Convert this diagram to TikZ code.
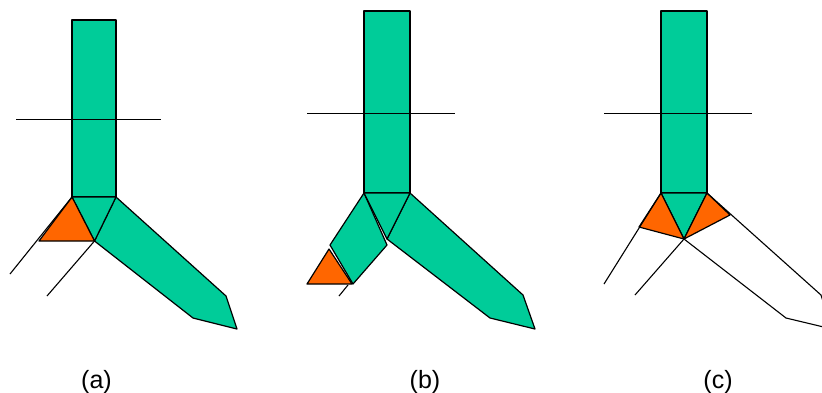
\documentclass[tikz,border=0pt]{standalone}
\usepackage{fontspec}
\setmainfont{Liberation Sans}
\definecolor{limbgreen}{RGB}{0,204,153}
\definecolor{tipred}{RGB}{255,102,0}
\tikzset{
  limb/.style={draw=black,fill=limbgreen,line width=1.2pt,line join=round},
  tip/.style={draw=black,fill=tipred,line width=1.2pt,line join=round},
  wire/.style={draw=black,line width=1.1pt},
  caption/.style={font=\fontsize{25}{28}\selectfont,inner sep=0pt,anchor=base}
}
\begin{document}
\begin{tikzpicture}[x=1pt,y=-1pt]
  \useasboundingbox (0,0) rectangle (822,392);
  \clip (0,0) rectangle (822,392);
  % panel a
  \draw[limb] (72,20) rectangle (116,197);
  \draw[wire] (16,119.5) -- (161,119.5);
  \draw[limb] (116,197) -- (226,296) -- (237,329) -- (193,318) -- (94.5,241) -- cycle;
  \draw[limb] (72,197) -- (116,197) -- (94.5,241) -- cycle;
  \draw[tip] (72,197) -- (39,241) -- (94.5,241) -- cycle;
  \draw[wire] (72,197) -- (10,274);
  \draw[wire] (94.5,241) -- (47,296);
  \node[caption] (capa) at (96.5,388) {(a)};
  % panel b
  \draw[limb] (364,11) rectangle (410,193);
  \draw[wire] (307,113.5) -- (455,113.5);
  \draw[limb] (364,193) -- (330,245) -- (353,284) -- (387,245) -- cycle;
  \draw[limb] (410,193) -- (523,295) -- (535,329) -- (490,318) -- (387,239) -- cycle;
  \draw[limb] (364,193) -- (410,193) -- (387,239) -- cycle;
  \draw[tip] (329,249) -- (307,284) -- (352,284) -- cycle;
  \draw[wire] (348,285) -- (339,296);
  \node[caption] (capb) at (425,388) {(b)};
  % panel c
  \draw[limb] (661,11) rectangle (707,193);
  \draw[wire] (604,113.5) -- (752,113.5);
  \draw[limb] (661,193) -- (707,193) -- (684,239) -- cycle;
  \draw[tip] (661,193) -- (639,227) -- (684,239) -- cycle;
  \draw[tip] (707,193) -- (730,215) -- (684,239) -- cycle;
  \draw[wire] (661,193) -- (604,284);
  \draw[wire] (684,239) -- (635,295);
  \draw[wire] (684,239) -- (786,318) -- (832,329);
  \draw[wire] (707,193) -- (821,295) -- (832,329);
  \node[caption] (capc) at (718,388) {(c)};
\end{tikzpicture}
\end{document}
